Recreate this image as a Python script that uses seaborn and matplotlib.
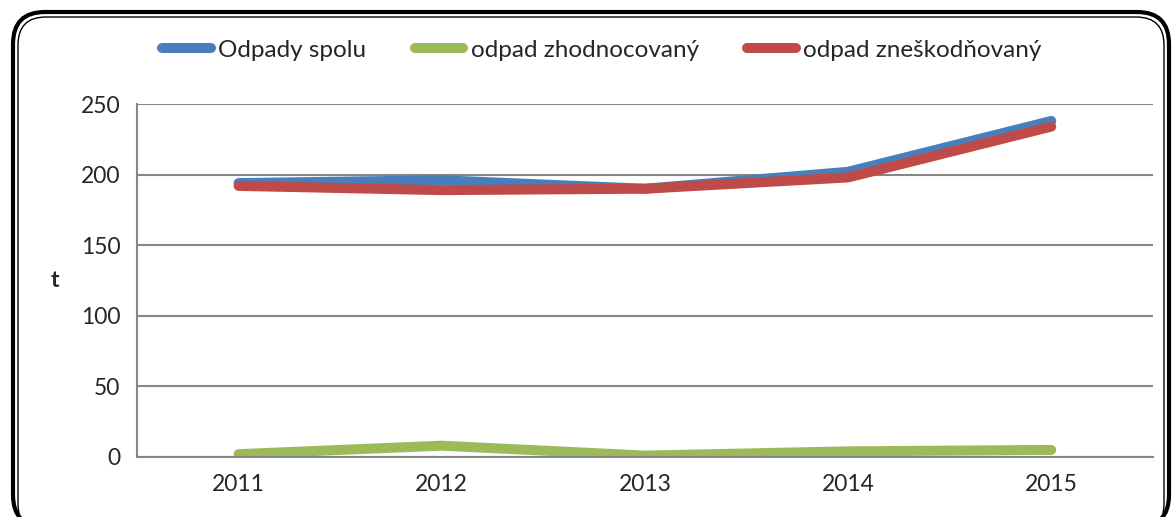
import matplotlib
matplotlib.use("Agg")
import matplotlib.pyplot as plt
import pandas as pd
import seaborn as sns
from matplotlib.patches import FancyBboxPatch
from matplotlib.transforms import IdentityTransform

# data (t)
years = ['2011', '2012', '2013', '2014', '2015']
odpady_spolu = [194, 196, 190, 202, 238]
odpad_zhodnocovany = [2, 8, 1, 4, 5]
odpad_zneskodnovany = [192, 189, 190, 198, 234]
series_names = ['Odpady spolu', 'odpad zhodnocovaný', 'odpad zneškodňovaný']
colors = ['#4A7EBB', '#9BBB59', '#BE4B48']

df = pd.DataFrame({'year': years * 3,
                   'value': odpady_spolu + odpad_zhodnocovany + odpad_zneskodnovany,
                   'series': [s for s in series_names for _ in years]})

sns.set_style('white')
plt.rcParams['font.family'] = ['Lato', 'DejaVu Sans']

fig = plt.figure(figsize=(11.73, 5.17), dpi=100)
ax = fig.add_axes([0.1168, 0.1161, 0.866, 0.6827])

sns.lineplot(data=df, x='year', y='value', hue='series', palette=colors,
             linewidth=7.2, solid_capstyle='round', ax=ax, sort=False)

ax.set_xlim(-0.5, 4.5)
ax.set_ylim(0, 250)
ax.set_yticks(range(0, 251, 50))
ax.set_xticks(range(5))
ax.set_xticklabels(years)
ax.set_xticks([i - 0.5 for i in range(6)], minor=True)
ax.tick_params(axis='x', which='major', length=0, labelsize=16.5, pad=12)
ax.tick_params(axis='x', which='minor', length=7, width=1.3, color='#868686', direction='out')
ax.tick_params(axis='y', length=6, width=1.3, color='#868686', direction='out', labelsize=16.5, pad=6)
ax.grid(axis='y', color='#868686', linewidth=1.5)
ax.set_axisbelow(True)
for s in ['top', 'right']:
    ax.spines[s].set_visible(False)
for s in ['left', 'bottom']:
    ax.spines[s].set_color('#868686')
    ax.spines[s].set_linewidth(1.5)
ax.set_xlabel('')
ax.set_ylabel('t', fontsize=16.5, fontweight='bold', rotation=0, va='center', ha='center')
ax.yaxis.set_label_coords(-0.081, 0.5)

handles, labels = ax.get_legend_handles_labels()
leg = ax.legend(handles, labels, loc='center', bbox_to_anchor=(0.513, 0.903), bbox_transform=fig.transFigure,
                ncol=3, frameon=False, fontsize=17.5, handlelength=2.0, handletextpad=0.3,
                columnspacing=2.0, borderpad=0)
for h in leg.get_lines():
    h.set_solid_capstyle('round')

# rounded double frame of the chart area
outer = FancyBboxPatch((13, -10), 1156, 515, boxstyle='round,pad=0,rounding_size=32',
                       fill=False, edgecolor='black', linewidth=3, transform=IdentityTransform())
inner = FancyBboxPatch((18, -15), 1146, 515, boxstyle='round,pad=0,rounding_size=28',
                       fill=False, edgecolor='black', linewidth=1, transform=IdentityTransform())
fig.patches.extend([outer, inner])

fig.savefig('out.png', dpi=100)
